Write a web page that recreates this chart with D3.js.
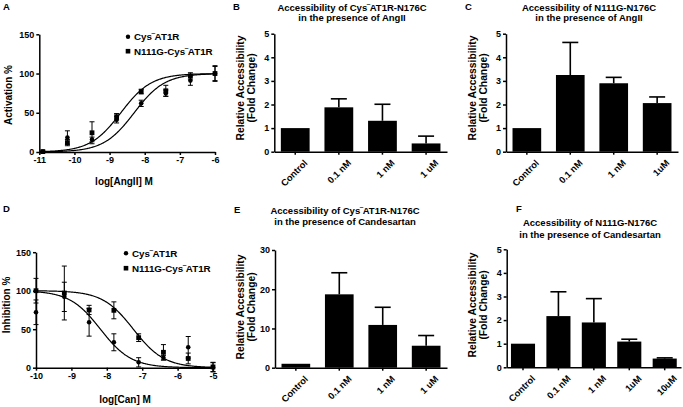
<!DOCTYPE html>
<html><head><meta charset="utf-8">
<script src="https://cdn.jsdelivr.net/npm/d3@7"></script>
<style>
body{margin:0;background:#fff}
svg{display:block}
text{font-family:"Liberation Sans",Arial,sans-serif;font-weight:bold;fill:#000}
</style>
</head><body>
<svg id="c" width="683" height="407"></svg>
<script>
// ---------- data ----------
const seriesNames = ["Cys", "N111G-Cys"]; // followed by superscript "‾" and "AT1R"

// Panel A: activation by AngII
const doseA = [-10.9, -10.2, -9.5, -8.8, -8.1, -7.4, -6.7, -6.0];
const cysA = [0.5, 18.5, 16, 41, 62, 75, 91, 100];
const cysAErr = [0.5, 8.5, 3, 4, 4, 4, 6, 9];
const n111gA = [0.5, 12, 24.5, 45, 77, 78, 97, 100];
const n111gAErr = [0.5, 4, 14, 4, 3, 7, 4, 10];
const logEC50A = [-8.30, -8.68];   // fitted curves (Cys, N111G)
const hillA = [1.0, 1.0];
const xTicksA = [-11, -10, -9, -8, -7, -6];
const yTicksScatter = [0, 50, 100, 150];

// Panel D: inhibition by candesartan
const doseD = [-10, -9.2, -8.5, -7.8, -7.1, -6.4, -5.7, -5.0];
const cysD = [72, 92, 59, 33, 7, 13, 26.5, 0.5];
const cysDErr = [16, 19, 18, 11, 6, 3, 14, 6];
const n111gD = [100, 97, 75, 74.5, 39, 20, 12, 1];
const n111gDErr = [16, 35, 6, 11, 5, 10, 7, 6];
const logIC50D = [-8.18, -7.25];
const hillD = [1.0, 1.0];
const xTicksD = [-10, -9, -8, -7, -6, -5];

// Bar panels
const catB = ["Control", "0.1 nM", "1 nM", "1 uM"];
const valB = [1.0, 1.88, 1.31, 0.35];
const errB = [0, 0.36, 0.70, 0.31];

const catC = ["Control", "0.1 nM", "1 nM", "1uM"];
const valC = [1.0, 3.25, 2.90, 2.06];
const errC = [0, 1.38, 0.25, 0.26];

const catE = ["Control", "0.1 nM", "1 nM", "1 uM"];
const valE = [1.0, 18.7, 10.9, 5.6];
const errE = [0, 5.5, 4.5, 2.6];

const catF = ["Control", "0.1 nM", "1 nM", "1uM", "10uM"];
const valF = [1.0, 2.17, 1.90, 1.09, 0.37];
const errF = [0, 1.03, 1.01, 0.10, 0.03];

const yTicks5 = [0, 1, 2, 3, 4, 5];
const yTicks30 = [0, 10, 20, 30];

// ---------- drawing ----------
const svg = d3.select("#c");
const AXW = 1.5;
const TICKFS = 9;

function styleAxis(g) {
  g.attr("font-family", null).attr("font-size", null);
  g.selectAll("path.domain").attr("stroke", "#000").attr("stroke-width", AXW);
  g.selectAll(".tick line").attr("stroke", "#000").attr("stroke-width", AXW);
  g.selectAll(".tick text").attr("font-size", TICKFS).attr("fill", "#000");
}

function superLabel(sel, pre, post, size) {
  sel.append("tspan").text(pre);
  sel.append("tspan").text("\u203E").attr("font-size", size * 0.8).attr("dy", -1);
  sel.append("tspan").text(post).attr("dy", 1);
}

function letter(t, x, y) {
  svg.append("text").attr("x", x).attr("y", y).attr("font-size", 9.5).text(t);
}

function yTitle(lines, cy, dxs) {
  lines.forEach((l, i) => {
    svg.append("text").attr("transform", `translate(${dxs[i]},${cy}) rotate(-90)`)
      .attr("text-anchor", "middle").attr("font-size", 10.3).text(l);
  });
}

function scatterPanel(o) {
  const x = d3.scaleLinear().domain(o.xDom).range(o.xR);
  const y = d3.scaleLinear().domain([0, 150]).range(o.yR);
  const gx = svg.append("g").attr("transform", `translate(0,${o.yR[0]})`)
    .call(d3.axisBottom(x).tickValues(o.xTicks).tickSize(3).tickPadding(2).tickSizeOuter(0).tickFormat(d => (d < 0 ? "-" + Math.abs(d) : String(d))));
  styleAxis(gx);
  const gy = svg.append("g").attr("transform", `translate(${o.xR[0]},0)`)
    .call(d3.axisLeft(y).tickValues(yTicksScatter).tickSize(3).tickPadding(2).tickSizeOuter(0).tickFormat(d3.format("d")));
  styleAxis(gy);
  // fitted curves
  const line = d3.line().x(d => x(d[0])).y(d => y(d[1]));
  o.fits.forEach((f) => {
    const pts = d3.range(o.curveDom[0], o.curveDom[1] + 1e-9, 0.02).map(v => {
      const r = 100 / (1 + Math.pow(10, f.hill * (f.c50 - v)));
      return [v, o.inhib ? 100 - r : r];
    });
    svg.append("path").attr("d", line(pts)).attr("fill", "none").attr("stroke", "#000").attr("stroke-width", 1.2);
  });
  // error bars + markers
  o.series.forEach((s, si) => {
    o.dose.forEach((d, i) => {
      const cx = x(d), m = s.v[i], e = s.e[i];
      const g = svg.append("g");
      g.append("line").attr("x1", cx).attr("x2", cx).attr("y1", y(m - e)).attr("y2", y(m + e)).attr("stroke", "#000").attr("stroke-width", 1);
      [m - e, m + e].forEach(v => g.append("line").attr("x1", cx - 2.5).attr("x2", cx + 2.5).attr("y1", y(v)).attr("y2", y(v)).attr("stroke", "#000").attr("stroke-width", 1));
      if (si === 0) g.append("circle").attr("cx", cx).attr("cy", y(m)).attr("r", 2.3).attr("fill", "#000");
      else g.append("rect").attr("x", cx - 2.4).attr("y", y(m) - 2.4).attr("width", 4.8).attr("height", 4.8).attr("fill", "#000");
    });
  });
  // legend
  o.legendY.forEach((ly, i) => {
    if (i === 0) svg.append("circle").attr("cx", o.legendX).attr("cy", ly - 3.3).attr("r", 2.2).attr("fill", "#000");
    else svg.append("rect").attr("x", o.legendX - 2.3).attr("y", ly - 5.6).attr("width", 4.6).attr("height", 4.6).attr("fill", "#000");
    const t = svg.append("text").attr("x", o.legendX + 6).attr("y", ly).attr("font-size", 9.8);
    superLabel(t, seriesNames[i], "AT1R", 9.8);
  });
  svg.append("text").attr("x", o.xLab[0]).attr("y", o.xLab[1]).attr("text-anchor", "middle").attr("font-size", 10).text(o.xTitle);
  svg.append("text").attr("transform", `translate(${o.yLab[0]},${o.yLab[1]}) rotate(-90)`).attr("text-anchor", "middle").attr("font-size", 10).text(o.yTitle);
}

function barPanel(o) {
  const x = d3.scaleBand().domain(o.cats).range(o.xR).paddingInner(o.pi).paddingOuter(o.po);
  const y = d3.scaleLinear().domain([0, o.yTicks[o.yTicks.length - 1]]).range(o.yR);
  o.cats.forEach((c, i) => {
    svg.append("rect").attr("x", x(c)).attr("y", y(o.vals[i])).attr("width", x.bandwidth()).attr("height", y(0) - y(o.vals[i])).attr("fill", "#000");
    if (o.errs[i] > 0) {
      const cx = x(c) + x.bandwidth() / 2;
      svg.append("line").attr("x1", cx).attr("x2", cx).attr("y1", y(o.vals[i])).attr("y2", y(o.vals[i] + o.errs[i])).attr("stroke", "#000").attr("stroke-width", 1.6);
      svg.append("line").attr("x1", cx - 8).attr("x2", cx + 8).attr("y1", y(o.vals[i] + o.errs[i])).attr("y2", y(o.vals[i] + o.errs[i])).attr("stroke", "#000").attr("stroke-width", 1.6);
    }
  });
  const gx = svg.append("g").attr("transform", `translate(0,${o.yR[0]})`)
    .call(d3.axisBottom(x).tickSize(3).tickSizeOuter(0));
  styleAxis(gx);
  gx.selectAll(".tick text").attr("text-anchor", "end").attr("transform", "translate(4,3) rotate(-45)").attr("dy", "0.7em").attr("font-size", 9.3);
  const gy = svg.append("g").attr("transform", `translate(${o.xR[0]},0)`)
    .call(d3.axisLeft(y).tickValues(o.yTicks).tickSize(3).tickPadding(2).tickSizeOuter(0).tickFormat(d3.format("d")));
  styleAxis(gy);
  const t1 = svg.append("text").attr("x", o.tx).attr("y", o.ty[0]).attr("text-anchor", "middle").attr("font-size", 9.5);
  if (o.title1.length === 2) superLabel(t1, o.title1[0], o.title1[1], 9.5); else t1.text(o.title1[0]);
  svg.append("text").attr("x", o.tx).attr("y", o.ty[1]).attr("text-anchor", "middle").attr("font-size", 9.5).text(o.title2);
  yTitle(["Relative Accessibility", "(Fold Change)"], o.ycy, o.ydx);
}

// Panel A
letter("A", 3, 9.5);
scatterPanel({
  xDom: [-11, -6], xR: [39.3, 215], yR: [152, 34.3], xTicks: xTicksA,
  dose: doseA, curveDom: [-10.9, -6], inhib: false,
  fits: [{c50: logEC50A[0], hill: hillA[0]}, {c50: logEC50A[1], hill: hillA[1]}],
  series: [{v: cysA, e: cysAErr}, {v: n111gA, e: n111gAErr}],
  legendX: 128, legendY: [40, 54.5],
  xTitle: "log[AngII] M", xLab: [124, 185], yTitle: "Activation %", yLab: [11.5, 95]
});

// Panel D
letter("D", 3, 212);
scatterPanel({
  xDom: [-10, -5], xR: [36, 213], yR: [367.7, 252.2], xTicks: xTicksD,
  dose: doseD, curveDom: [-10, -5], inhib: true,
  fits: [{c50: logIC50D[0], hill: hillD[0]}, {c50: logIC50D[1], hill: hillD[1]}],
  series: [{v: cysD, e: cysDErr}, {v: n111gD, e: n111gDErr}],
  legendX: 126, legendY: [256.5, 271.5],
  xTitle: "log[Can] M", xLab: [125, 403], yTitle: "Inhibition %", yLab: [10, 305]
});

// Panel B
letter("B", 233, 9.5);
barPanel({
  cats: catB, vals: valB, errs: errB, yTicks: yTicks5,
  xR: [274.3, 447], yR: [151.7, 33.7], pi: 0.34, po: 0.15,
  title1: ["Accessibility of Cys", "AT1R-N176C"], title2: "in the presence of AngII",
  tx: 352, ty: [10.5, 20.5], ycy: 88, ydx: [243.5, 254.5]
});

// Panel C
letter("C", 465, 9.5);
barPanel({
  cats: catC, vals: valC, errs: errC, yTicks: yTicks5,
  xR: [506, 678], yR: [151.7, 33.7], pi: 0.34, po: 0.15,
  title1: ["Accessibility of N111G-N176C"], title2: "in the presence of AngII",
  tx: 589, ty: [10.5, 20.5], ycy: 88, ydx: [476, 487]
});

// Panel E
letter("E", 234, 213);
barPanel({
  cats: catE, vals: valE, errs: errE, yTicks: yTicks30,
  xR: [275, 447], yR: [367.7, 250], pi: 0.34, po: 0.15,
  title1: ["Accessibility of Cys", "AT1R-N176C"], title2: "in the presence of Candesartan",
  tx: 345, ty: [214, 225], ycy: 307, ydx: [243.5, 254.5]
});

// Panel F
letter("F", 516, 212);
barPanel({
  cats: catF, vals: valF, errs: errF, yTicks: yTicks5,
  xR: [506.7, 681], yR: [367.3, 249.3], pi: 0.32, po: 0.12,
  title1: ["Accessibility of N111G-N176C"], title2: "in the presence of Candesartan",
  tx: 590, ty: [226, 237.5], ycy: 305, ydx: [476, 487]
});
</script>
</body></html>
